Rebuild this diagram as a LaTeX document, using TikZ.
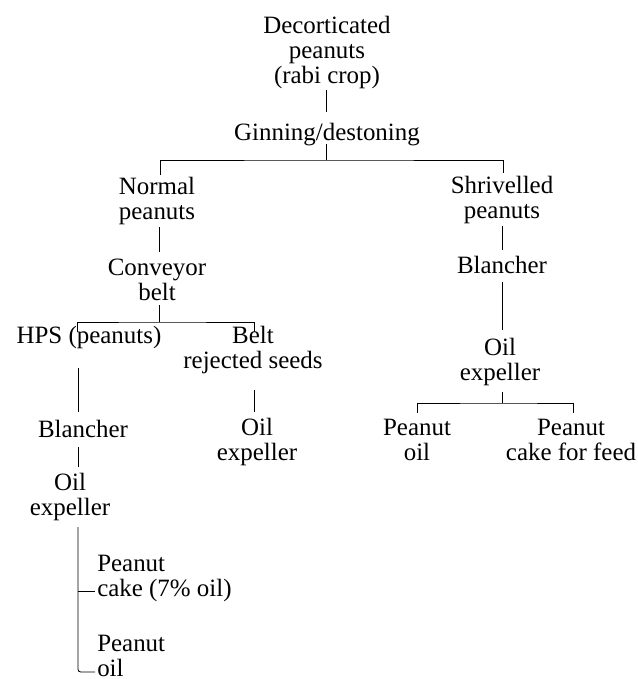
\documentclass[tikz,border=0pt]{standalone}
\usepackage{fontspec}
\setmainfont{Liberation Serif}
\usetikzlibrary{calc}
\begin{document}
\begin{tikzpicture}[x=0.75pt,y=-0.75pt,
  every node/.style={font=\fontsize{18.7}{18.75}\selectfont, inner sep=0pt, align=center, anchor=base},
  leftlab/.style={align=left, anchor=base west},
  conn/.style={line width=0.65pt}]
\useasboundingbox (0,0) rectangle (638,679);
% nodes (positioned at the baseline of their last line)
\node (top) at (327,83) {Decorticated\\peanuts\\(rabi crop)};
\node (gin) at (327,140) {Ginning/destoning};
\node (normal) at (157,219) {Normal\\peanuts};
\node (shriv) at (502,218) {Shrivelled\\peanuts};
\node (conv) at (157,300) {Conveyor\\belt};
\node (blR) at (502,273) {Blancher};
\node (oilR) at (500,380) {Oil\\expeller};
\node (hps) at (89,343) {HPS (peanuts)};
\node (belt) at (253,368) {Belt\\rejected seeds};
\node (blL) at (83,437) {Blancher};
\node (oilB) at (257,460) {Oil\\expeller};
\node (oilL) at (70,515) {Oil\\expeller};
\node (poil) at (417,460) {Peanut\\oil};
\node (pcake) at (571,460) {Peanut\\cake for feed};
\node[leftlab] (cakeL) at (97,596) {Peanut\\cake (7\% oil)};
\node[leftlab] (oilLL) at (97,676) {Peanut\\oil};
% junctions
\coordinate (jA) at ($(gin.base)+(-1,20)$);
\coordinate (jB) at ($(conv.base)+(2,22)$);
\coordinate (jC) at ($(oilR.base)+(2,23)$);
% connectors
\draw[conn] ($(top.base)+(-1,7)$) -- ($(gin.base)+(-1,-28)$);
\draw[conn] ($(gin.base)+(-1,4)$) -- (jA);
\draw[conn] ($(normal.base)+(3,-44)$) |- (jA) -| ($(shriv.base)+(1,-45)$);
\draw[conn] ($(normal.base)+(2,8)$) -- ($(conv.base)+(2,-48)$);
\draw[conn] ($(conv.base)+(2,5)$) -- (jB);
\draw[conn] ($(hps.base)+(-12,-11)$) |- (jB) -| ($(belt.base)+(1,-36)$);
\draw[conn] ($(hps.base)+(-11,25)$) -- ($(blL.base)+(-5,-25)$);
\draw[conn] ($(belt.base)+(1,22)$) -- ($(oilB.base)+(-3,-48)$);
\draw[conn] ($(blL.base)+(-5,10)$) -- ($(oilL.base)+(8,-48)$);
\draw[conn, rounded corners=2pt] ($(oilL.base)+(8,12)$) |- ($(oilLL.base west)+(-2,-4)$);
\draw[conn] ($(cakeL.base west)+(-19,-5)$) -- ($(cakeL.base west)+(-2,-5)$);
\draw[conn] ($(shriv.base)+(0,8)$) -- ($(blR.base)+(0,-23)$);
\draw[conn] ($(blR.base)+(0,9)$) -- ($(oilR.base)+(2,-50)$);
\draw[conn] ($(oilR.base)+(2,12)$) -- (jC);
\draw[conn] ($(poil.base)+(0,-47)$) |- (jC) -| ($(pcake.base)+(2,-47)$);
\end{tikzpicture}
\end{document}
